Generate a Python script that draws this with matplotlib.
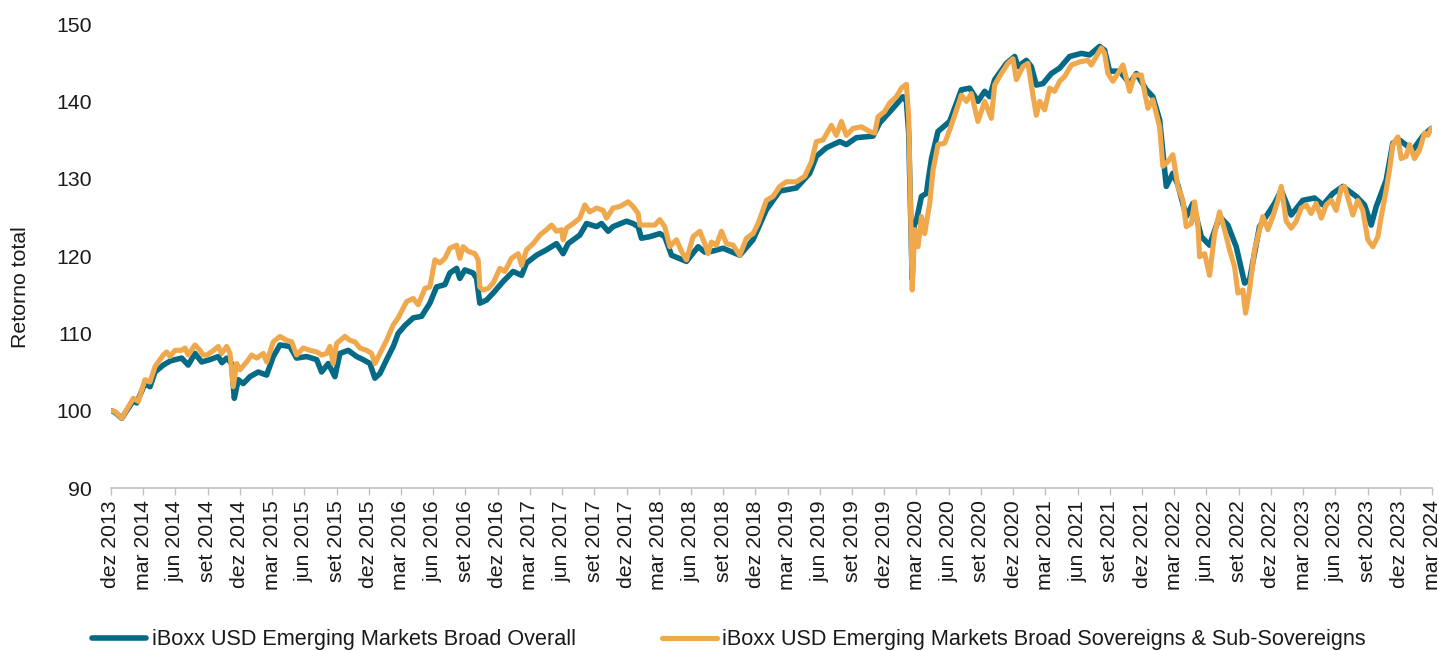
import matplotlib
matplotlib.use("Agg")
import matplotlib.pyplot as plt

# ---- data (months since dez 2013, total return index) ----
t_overall = [0, 0.37, 1.00, 1.46, 2.08, 2.39, 3.16, 3.63, 4.10, 4.87, 5.49, 5.96, 6.58, 7.19, 7.82,
             8.44, 9.21, 9.99, 10.33, 10.77, 11.23, 11.48, 11.85, 12.31, 12.94, 13.71, 14.49, 15.11,
             15.73, 16.66, 17.28, 18.21, 19.15, 19.61, 20.23, 20.85, 21.31, 22.09, 22.87, 23.48,
             24.11, 24.57, 25.04, 25.66, 26.28, 26.74, 27.36, 28.14, 28.92, 29.69, 30.31, 31.09,
             31.55, 32.18, 32.48, 32.95, 33.72, 34.04, 34.34, 34.97, 35.58, 36.51, 37.44, 38.23,
             38.69, 39.62, 40.55, 41.48, 42.10, 42.56, 43.65, 44.28, 45.21, 45.67, 46.29, 46.75,
             48.00, 48.61, 49.08, 49.39, 50.17, 51.10, 51.56, 52.19, 53.58, 54.67, 55.29, 55.91,
             56.99, 58.55, 59.78, 61.03, 62.27, 63.82, 65.06, 65.68, 66.61, 67.85, 68.47, 69.40,
             70.95, 71.57, 72.81, 73.74, 74.06, 74.27, 74.60, 74.78, 74.98, 75.46, 75.93, 76.09,
             76.40, 77.00, 78.09, 79.18, 79.95, 80.72, 81.35, 81.81, 82.28, 83.37, 84.14, 84.45,
             85.23, 85.69, 86.16, 86.78, 87.56, 88.33, 89.26, 90.35, 91.12, 92.05, 92.52, 92.98,
             93.91, 94.85, 95.47, 96.40, 97.01, 97.64, 98.26, 98.87, 99.34, 100.12, 100.74, 101.52,
             102.29, 103.22, 103.99, 104.77, 105.55, 106.01, 106.94, 108.34, 108.96, 109.89,
             110.97, 112.06, 112.84, 113.77, 114.70, 115.95, 116.72, 117.34, 117.81, 118.73,
             119.35, 119.97, 121.21, 122.14, 122.93]
overall = [100.0, 99.8, 99.0, 100.0, 101.3, 101.0, 103.5, 103.1, 105.0, 105.9, 106.4, 106.6, 106.8,
           105.9, 107.4, 106.3, 106.6, 107.0, 106.2, 106.8, 106.1, 101.6, 104.0, 103.5, 104.4, 105.0,
           104.6, 107.0, 108.5, 108.3, 106.8, 107.0, 106.6, 105.0, 106.1, 104.4, 107.4, 107.8, 107.0,
           106.6, 106.1, 104.2, 104.8, 106.6, 108.3, 110.0, 111.0, 112.0, 112.2, 113.9, 116.0, 116.3,
           117.8, 118.4, 117.1, 118.2, 117.8, 117.1, 113.9, 114.3, 115.2, 116.7, 118.0, 117.5, 119.1,
           120.1, 120.8, 121.6, 120.3, 121.6, 122.7, 124.2, 123.8, 124.2, 123.2, 123.8, 124.5, 124.2,
           123.8, 122.3, 122.5, 122.9, 122.5, 120.1, 119.3, 121.2, 120.5, 120.6, 121.0, 120.1, 122.1,
           126.0, 128.4, 128.8, 130.7, 132.9, 134.0, 134.8, 134.4, 135.3, 135.5, 137.2, 139.1, 140.6,
           140.0, 136.0, 117.0, 124.0, 124.5, 127.7, 128.1, 129.8, 132.6, 136.1, 137.4, 141.5, 141.7,
           140.0, 141.3, 140.6, 142.8, 144.9, 145.8, 144.5, 145.3, 144.5, 142.1, 142.3, 143.6, 144.3,
           145.8, 146.2, 146.0, 147.1, 146.6, 143.9, 143.9, 142.3, 143.6, 141.5, 140.6, 137.6, 129.0,
           130.7, 129.2, 125.1, 126.8, 122.5, 121.4, 125.1, 124.0, 121.2, 116.5, 116.9, 123.8, 126.8,
           128.5, 125.3, 127.2, 127.5, 126.6, 128.1, 129.0, 127.7, 126.6, 124.0, 126.4, 129.8, 134.6,
           135.0, 133.7, 135.5, 136.5]

t_sov = [0, 0.37, 1.00, 1.46, 2.08, 2.54, 3.16, 3.63, 4.10, 4.87, 5.18, 5.49, 5.96, 6.58, 6.89, 7.19,
         7.82, 8.28, 8.59, 8.91, 9.37, 9.99, 10.30, 10.77, 11.08, 11.38, 11.70, 12.01, 12.63, 13.10,
         13.56, 14.18, 14.49, 15.11, 15.73, 16.35, 16.82, 17.28, 17.90, 18.52, 19.15, 19.61, 20.08,
         20.38, 20.69, 21.01, 21.78, 22.24, 22.71, 23.18, 23.80, 24.26, 24.57, 25.04, 25.66, 26.28,
         26.74, 27.52, 28.14, 28.60, 29.23, 29.69, 30.16, 30.62, 31.09, 31.55, 32.18, 32.48, 32.79,
         33.26, 33.88, 34.19, 34.34, 34.65, 35.12, 35.58, 36.21, 36.67, 37.29, 37.91, 38.23, 38.69,
         39.31, 39.93, 40.55, 41.02, 41.48, 41.95, 42.10, 42.41, 43.03, 43.65, 44.12, 44.58, 45.21,
         45.82, 46.14, 46.75, 47.38, 48.15, 48.61, 49.08, 49.24, 49.86, 50.63, 51.10, 51.56, 52.03,
         52.65, 53.12, 53.58, 54.20, 54.82, 55.29, 55.59, 55.91, 56.37, 56.84, 57.31, 57.92, 58.55,
         59.17, 59.78, 60.25, 61.03, 61.64, 62.27, 62.89, 63.82, 64.59, 65.22, 65.68, 66.30, 67.08,
         67.54, 68.01, 68.47, 69.09, 69.87, 70.64, 71.11, 71.42, 72.04, 72.51, 73.13, 73.59, 74.06,
         74.27, 74.60, 74.83, 75.14, 75.46, 75.76, 76.23, 76.54, 77.00, 77.63, 78.09, 78.56, 79.18,
         79.65, 80.11, 80.72, 81.35, 81.97, 82.28, 82.90, 83.51, 83.98, 84.30, 84.91, 85.38, 85.84,
         86.16, 86.47, 86.93, 87.40, 87.86, 88.33, 88.79, 89.42, 90.19, 90.96, 91.28, 91.74, 92.21,
         92.52, 92.82, 93.29, 93.76, 94.22, 94.85, 95.31, 95.93, 96.55, 97.01, 97.64, 97.94, 98.41,
         98.87, 99.34, 99.80, 100.12, 100.59, 100.89, 101.20, 101.36, 101.83, 102.29, 102.76,
         103.22, 103.69, 104.15, 104.62, 104.93, 105.39, 105.64, 106.01, 106.48, 106.94, 107.25,
         107.72, 108.18, 108.65, 108.96, 109.43, 109.89, 110.36, 110.82, 111.29, 111.75, 112.22,
         112.69, 113.15, 113.62, 114.08, 114.55, 114.86, 115.32, 115.63, 116.09, 116.56, 117.02,
         117.49, 117.96, 118.27, 118.73, 119.04, 119.35, 119.82, 120.13, 120.60, 120.91, 121.37,
         121.84, 122.30, 122.61, 122.93]
sov = [100.0, 99.9, 99.0, 100.1, 101.6, 101.2, 104.0, 103.7, 105.7, 107.2, 107.6, 107.0, 107.8, 107.8,
       108.1, 107.2, 108.5, 107.8, 107.2, 107.2, 107.6, 108.3, 107.4, 108.3, 107.4, 103.1, 106.1, 105.3,
       106.3, 107.2, 106.8, 107.4, 106.3, 108.9, 109.6, 109.1, 108.9, 107.2, 108.1, 107.8, 107.6, 107.2,
       107.4, 108.3, 106.1, 108.7, 109.6, 109.1, 108.9, 108.1, 107.8, 107.4, 106.1, 107.4, 109.1, 111.1,
       112.0, 114.1, 114.5, 113.7, 115.8, 116.0, 119.5, 119.1, 119.7, 121.0, 121.4, 119.7, 121.2, 120.6,
       120.3, 119.5, 116.0, 115.6, 115.8, 116.5, 118.4, 118.0, 119.7, 120.3, 118.8, 120.8, 121.6, 122.7,
       123.4, 124.0, 123.2, 123.4, 122.1, 123.6, 124.2, 124.9, 126.6, 125.7, 126.2, 125.9, 124.9, 126.2,
       126.4, 127.0, 126.4, 125.5, 124.0, 124.0, 124.0, 124.7, 123.8, 121.2, 122.1, 120.6, 119.5, 122.5,
       123.2, 121.6, 120.3, 121.8, 121.4, 123.2, 121.6, 121.4, 120.1, 122.3, 122.9, 124.2, 127.2, 127.7,
       129.0, 129.6, 129.6, 130.3, 132.2, 134.8, 135.0, 136.9, 135.6, 137.4, 135.6, 136.5, 136.7, 136.1,
       135.9, 138.0, 138.7, 139.8, 140.6, 141.7, 142.2, 138.0, 115.6, 123.4, 121.2, 125.1, 122.9, 126.8,
       131.1, 134.4, 134.6, 136.3, 138.2, 140.8, 140.0, 141.0, 137.4, 140.0, 137.8, 142.1, 143.6, 144.9,
       145.5, 142.8, 144.5, 144.9, 140.8, 138.2, 140.0, 138.9, 141.7, 141.3, 142.6, 143.2, 144.7, 145.1,
       145.3, 144.7, 145.8, 146.9, 146.2, 143.6, 142.6, 143.6, 144.7, 141.3, 143.4, 143.4, 139.1, 140.2,
       136.7, 131.6, 132.2, 133.1, 129.0, 127.2, 123.8, 124.2, 127.0, 124.2, 119.9, 120.3, 117.5, 122.9,
       125.7, 123.4, 120.8, 118.6, 115.2, 115.6, 112.6, 115.6, 120.8, 123.4, 125.1, 123.4, 125.1, 127.2,
       129.0, 124.5, 123.6, 124.5, 126.2, 126.6, 125.5, 126.8, 124.9, 126.6, 127.2, 125.9, 128.8, 129.0,
       126.8, 125.3, 127.2, 125.9, 122.1, 121.2, 122.5, 125.1, 128.5, 131.1, 134.4, 135.4, 132.6, 132.9,
       134.4, 132.6, 133.7, 135.9, 135.6, 136.5]

month_names = ["dez", "mar", "jun", "set"]
first_year = 2013
n_quarters = 42
tick_labels = [f"{month_names[i % 4]} {first_year + (i + 3) // 4}" for i in range(n_quarters)]
y_ticks = [90, 100, 110, 120, 130, 140, 150]
label_overall = "iBoxx USD Emerging Markets Broad Overall"
label_sov = "iBoxx USD Emerging Markets Broad Sovereigns & Sub-Sovereigns"

plt.rcParams["font.family"] = ["Liberation Sans", "DejaVu Sans"]

fig = plt.figure(figsize=(14.39, 6.51), dpi=100)
ax = fig.add_axes([111 / 1439, 1 - 488 / 651, 1321 / 1439, 464 / 651])

ax.plot(t_overall, overall, color="#046A86", lw=4.0, solid_joinstyle="round",
        solid_capstyle="round", label=label_overall, zorder=2)
ax.plot(t_sov, sov, color="#F0A84C", lw=3.7, solid_joinstyle="round",
        solid_capstyle="round", label=label_sov, zorder=3)

ax.set_xlim(0, 3 * (n_quarters - 1))
ax.set_ylim(90, 150)
ax.set_yticks(y_ticks)
ax.set_xticks([3 * i for i in range(n_quarters)])
ax.set_xticklabels(tick_labels, rotation=90, fontsize=15.3, color="#1a1a1a")
ax.tick_params(axis="x", length=5, width=1, color="#BFBFBF", pad=4)
ax.tick_params(axis="y", length=0, pad=13.5, labelsize=15.3, labelcolor="#1a1a1a")

for s in ["top", "right", "left"]:
    ax.spines[s].set_visible(False)
ax.spines["bottom"].set_color("#BFBFBF")
ax.spines["bottom"].set_linewidth(1.2)

ax.set_ylabel("Retorno total", fontsize=15.3, color="#1a1a1a")
ax.yaxis.set_label_coords((30 - 111) / 1321, 0.432)

fig.legend(loc="center", bbox_to_anchor=(0.5065, 11 / 651), ncol=2, frameon=False,
           fontsize=15.6, handlelength=2.5, handletextpad=0.25, columnspacing=4.0,
           borderpad=0, labelcolor="#1a1a1a")

fig.savefig("out.png", dpi=100)
